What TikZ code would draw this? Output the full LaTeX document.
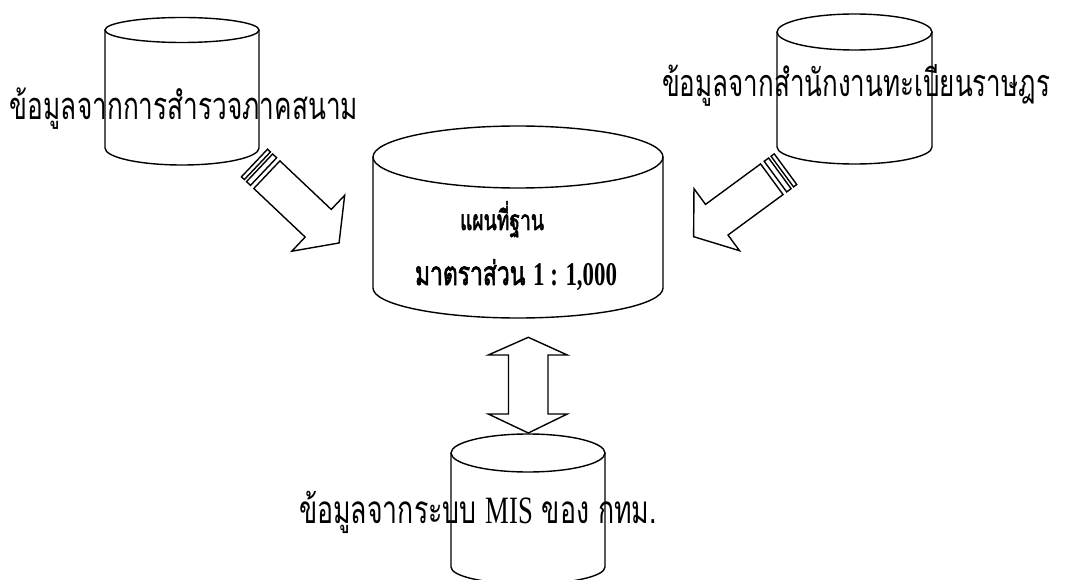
\documentclass[tikz,border=0pt]{standalone}
\usepackage{fontspec}
\newfontfamily\thaifont[Script=Thai]{Loma}
\newfontfamily\thaibold[Script=Thai, FakeBold=2.5]{Loma}
\newfontfamily\latinfont{Liberation Serif}
\usetikzlibrary{calc}
\tikzset{
  shapeline/.style={draw=black, line width=1.4pt, line join=miter},
  label/.style={inner sep=0pt, outer sep=0pt, anchor=base west},
  stripedarrow/.pic={
    \draw[shapeline] (0,-19) rectangle (4,19);
    \draw[shapeline] (7,-19) rectangle (12.5,19);
    \draw[shapeline] (17,-19) -- (#1,-19) -- (#1,-38.5) -- ({#1+28.7},0)
        -- (#1,38.5) -- (#1,19) -- (17,19) -- cycle;
  }
}
\newcommand{\dbcan}[6]{%
  \draw[shapeline] (#1,-#2) ellipse [x radius=#3, y radius=#4];
  \draw[shapeline] ({#1-#3},-#2) -- ({#1-#3},-#5)
     arc[start angle=180, end angle=360, x radius=#3, y radius=#6] -- ({#1+#3},-#2);
}
\newcommand{\thtext}[2]{\resizebox{#1}{!}{\scalebox{1}[1.45]{#2}}}
\begin{document}
\begin{tikzpicture}[x=1pt, y=1pt]
\useasboundingbox (0,0) rectangle (1066,-580);
\clip (0,0) rectangle (1066,-580);

% cylinders
\dbcan{182}{30}{77}{12.5}{148}{17}
\dbcan{854.5}{32}{77.5}{18}{147}{17}
\dbcan{518}{157}{145}{31}{288}{30}
\dbcan{528}{453}{77}{19}{567}{17}

% striped block arrows
\pic[rotate=-43.4] at (254.5,-163) {stripedarrow=87.7};
\pic[rotate=-143.7] at (785.5,-169.2) {stripedarrow=85.3};

% double vertical arrow
\draw[shapeline] (528.3,-337.3) -- (567.3,-355) -- (548,-355) -- (548,-414)
  -- (567.3,-414) -- (528.3,-433) -- (488.3,-414) -- (508.5,-414)
  -- (508.5,-355) -- (488.3,-355) -- cycle;

% texts
\node[label] (textL) at (10,-120) {\thtext{348pt}{\thaifont ข้อมูลจากการสำรวจภาคสนาม}};
\node[label] (textR) at (662,-97) {\thtext{388pt}{\thaifont ข้อมูลจากสำนักงานทะเบียนราษฎร}};
\node[label] (textB) at (299,-523) {\thtext{358pt}{\thaifont ข้อมูลจากระบบ {\latinfont MIS} ของ กทม.}};
\node[label] (title1) at (460,-230) {\thtext{84pt}{\thaibold แผนที่ฐาน}};
\node[label] (title2) at (415,-285) {\thtext{202pt}{\thaibold มาตราส่วน {\latinfont\bfseries 1 : 1,000}}};
\end{tikzpicture}
\end{document}
